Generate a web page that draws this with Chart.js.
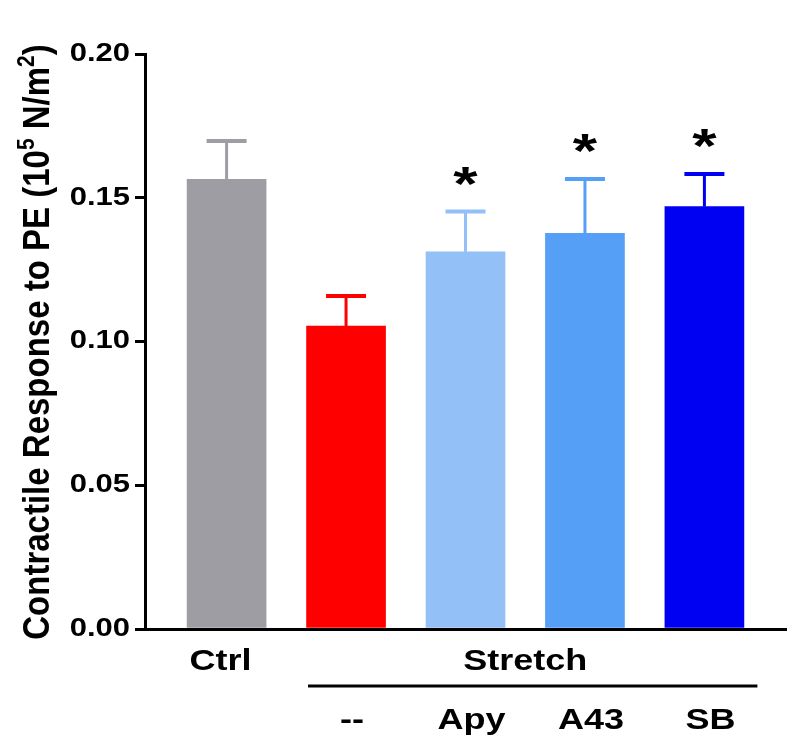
<!DOCTYPE html>
<html>
<head>
<meta charset="utf-8">
<script src="https://cdn.jsdelivr.net/npm/chart.js@4"></script>
<style>
  html, body { margin: 0; padding: 0; background: #ffffff; }
  #wrap { width: 800px; height: 755px; }
</style>
</head>
<body>
<div id="wrap"><canvas id="c" width="800" height="755"></canvas></div>
<script>
// ---- data ----
const categories = ['Ctrl', '--', 'Apy', 'A43', 'SB'];
const groupLabel = 'Stretch';
const means = [0.1564, 0.1054, 0.1312, 0.1376, 0.1469];
const sems  = [0.0133, 0.0104, 0.0140, 0.0189, 0.0114];
const stars = ['', '', '*', '*', '*'];
const barColors = ['#9e9da3', '#fe0000', '#92c0f7', '#559ff6', '#0000f3'];
const yTickValues = [0, 0.05, 0.10, 0.15, 0.20];
const yTickLabels = ['0.00', '0.05', '0.10', '0.15', '0.20'];
const yTitleMain = 'Contractile Response to PE (10';
const yTitleSup1 = '5';
const yTitleMid = ' N/m';
const yTitleSup2 = '2';
const yTitleEnd = ')';

const FONT = '"Liberation Sans", Arial, sans-serif';

function stretchedText(ctx, text, x, y, font, align, baseline, sx) {
  ctx.save();
  ctx.font = font;
  ctx.textAlign = align;
  ctx.textBaseline = baseline;
  ctx.translate(x, y);
  ctx.scale(sx, 1);
  ctx.fillText(text, 0, 0);
  ctx.restore();
}

const annotations = {
  id: 'annotations',
  afterDatasetsDraw(chart) {
    const ctx = chart.ctx;
    const xs = chart.scales.x, ys = chart.scales.y;
    means.forEach((m, i) => {
      const x = xs.getPixelForValue(i);
      const yb = ys.getPixelForValue(m);
      const yt = ys.getPixelForValue(m + sems[i]);
      ctx.save();
      ctx.strokeStyle = barColors[i];
      ctx.lineWidth = 3;
      ctx.beginPath();
      ctx.moveTo(x, yb);
      ctx.lineTo(x, yt);
      ctx.stroke();
      ctx.lineWidth = 4;
      ctx.beginPath();
      ctx.moveTo(x - 20, yt);
      ctx.lineTo(x + 20, yt);
      ctx.stroke();
      ctx.restore();
      if (stars[i]) {
        ctx.save();
        ctx.fillStyle = '#000';
        ctx.font = 'bold 48px ' + FONT;
        const mt = ctx.measureText(stars[i]);
        const h = mt.actualBoundingBoxAscent + mt.actualBoundingBoxDescent;
        const cy = yt - 36;
        ctx.textAlign = 'center';
        ctx.textBaseline = 'alphabetic';
        ctx.translate(x, cy + h / 2 - mt.actualBoundingBoxDescent);
        ctx.scale(1.3, 1);
        ctx.fillText(stars[i], 0, 0);
        ctx.restore();
      }
    });
  },
  afterDraw(chart) {
    const ctx = chart.ctx;
    const xs = chart.scales.x, ys = chart.scales.y;
    ctx.save();
    ctx.fillStyle = '#000';
    yTickValues.forEach((v, i) => {
      stretchedText(ctx, yTickLabels[i], 130, ys.getPixelForValue(v), 'bold 25px ' + FONT, 'right', 'middle', 1.24);
    });
    const xf = 'bold 30px ' + FONT;
    const xsx = 1.2;
    stretchedText(ctx, categories[0], xs.getPixelForValue(0) - 6, 662, xf, 'center', 'middle', xsx);
    const gx = (xs.getPixelForValue(1) + xs.getPixelForValue(categories.length - 1)) / 2;
    stretchedText(ctx, groupLabel, gx, 662, xf, 'center', 'middle', xsx);
    ctx.strokeStyle = '#000';
    ctx.lineWidth = 3;
    ctx.beginPath();
    ctx.moveTo(xs.getPixelForValue(1) - 38, 686);
    ctx.lineTo(xs.getPixelForValue(categories.length - 1) + 53, 686);
    ctx.stroke();
    for (let i = 1; i < categories.length; i++) {
      stretchedText(ctx, categories[i], xs.getPixelForValue(i) + 6, 721, xf, 'center', 'middle', xsx);
    }
    const tf = 'bold 33px ' + FONT;
    const sf = 'bold 21px ' + FONT;
    ctx.font = tf;
    const w1 = ctx.measureText(yTitleMain).width;
    const w3 = ctx.measureText(yTitleMid).width;
    const w5 = ctx.measureText(yTitleEnd).width;
    ctx.font = sf;
    const w2 = ctx.measureText(yTitleSup1).width;
    const w4 = ctx.measureText(yTitleSup2).width;
    const total = w1 + w2 + w3 + w4 + w5;
    ctx.translate(39, 342);
    ctx.scale(1.1, 1);
    ctx.rotate(-Math.PI / 2);
    ctx.textBaseline = 'middle';
    ctx.textAlign = 'left';
    let p = -total / 2;
    ctx.font = tf; ctx.fillText(yTitleMain, p, 0); p += w1;
    ctx.font = sf; ctx.fillText(yTitleSup1, p, -10); p += w2;
    ctx.font = tf; ctx.fillText(yTitleMid, p, 0); p += w3;
    ctx.font = sf; ctx.fillText(yTitleSup2, p, -10); p += w4;
    ctx.font = tf; ctx.fillText(yTitleEnd, p, 0);
    ctx.restore();
  }
};

new Chart(document.getElementById('c'), {
  type: 'bar',
  data: {
    datasets: [{
      data: means.map((m, i) => ({ x: i, y: m })),
      backgroundColor: barColors,
      borderWidth: 0,
      barThickness: 79
    }]
  },
  options: {
    responsive: false,
    animation: false,
    devicePixelRatio: 1,
    layout: { padding: { left: 0, top: 54, right: 14, bottom: 0 } },
    plugins: { legend: { display: false }, tooltip: { enabled: false }, title: { display: false } },
    scales: {
      x: {
        type: 'linear',
        offset: false,
        min: -0.683,
        max: 4.683,
        grid: { display: false },
        ticks: { display: false },
        border: { display: true, color: '#000', width: 3 },
        afterFit(s) { s.height = 126; }
      },
      y: {
        min: 0,
        max: 0.2,
        ticks: { stepSize: 0.05, display: false },
        grid: { drawOnChartArea: false, drawTicks: true, tickLength: 10, color: '#000', lineWidth: 3 },
        border: { display: true, color: '#000', width: 3 },
        afterFit(s) { s.width = 145; }
      }
    }
  },
  plugins: [annotations]
});
</script>
</body>
</html>
